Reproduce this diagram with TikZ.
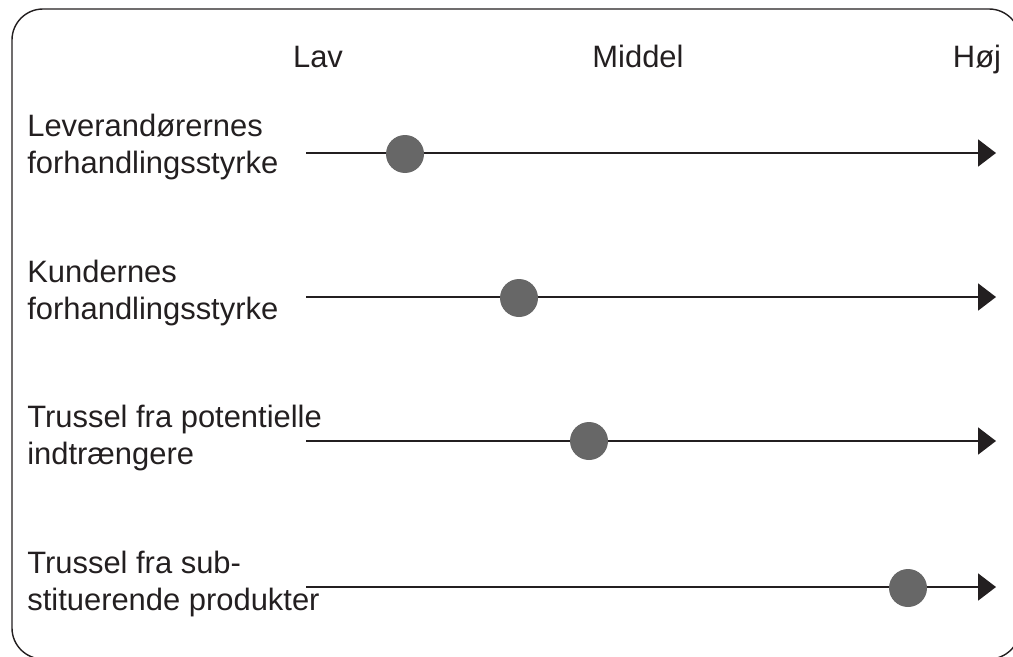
\documentclass[tikz,border=0pt]{standalone}
\usepackage{fontspec}
\setmainfont{Liberation Sans}
\usetikzlibrary{arrows.meta}
\definecolor{dotgray}{HTML}{676767}
\definecolor{ink}{HTML}{231F20}

\begin{document}
\begin{tikzpicture}[x=0.02cm, y=-0.02cm,
    every node/.style={font=\fontsize{17.6}{21}\selectfont, text=ink, inner sep=0pt},
    axis/.style={ink, line width=1.1pt, -{Triangle[length=0.36cm, width=0.54cm]}},
    dot/.style={circle, fill=dotgray, minimum size=0.76cm}]
    \useasboundingbox (0,0) rectangle (1013,656);
    \clip (0,0) rectangle (1013,656);
    \draw [ink, line width=0.8pt, rounded corners=0.62cm] (12,9) rectangle (1020,659);
    % scale
    \node[anchor=base] (lav) at (318,67) {Lav};
    \node[anchor=base] (middel) at (638,67) {Middel};
    \node[anchor=base] (hoej) at (977,67) {Høj};
    % forces
    \node[anchor=base west, align=left] (t1) at (27,173) {Leverandørernes\\forhandlingsstyrke};
    \node[anchor=base west, align=left] (t2) at (27,319) {Kundernes\\forhandlingsstyrke};
    \node[anchor=base west, align=left] (t3) at (27,464) {Trussel fra potentielle\\indtrængere};
    \node[anchor=base west, align=left] (t4) at (27,610) {Trussel fra sub-\\stituerende produkter};
    \coordinate (s1) at (306,153); \coordinate (e1) at (996,153);
    \coordinate (s2) at (306,297); \coordinate (e2) at (996,297);
    \coordinate (s3) at (306,441); \coordinate (e3) at (996,441);
    \coordinate (s4) at (306,587); \coordinate (e4) at (996,587);
    \draw [axis] (s1) -- (e1);
    \draw [axis] (s2) -- (e2);
    \draw [axis] (s3) -- (e3);
    \draw [axis] (s4) -- (e4);
    \node[dot] (d1) at (405,154) {};
    \node[dot] (d2) at (519,298) {};
    \node[dot] (d3) at (589,441) {};
    \node[dot] (d4) at (908,588) {};
\end{tikzpicture}
\end{document}
